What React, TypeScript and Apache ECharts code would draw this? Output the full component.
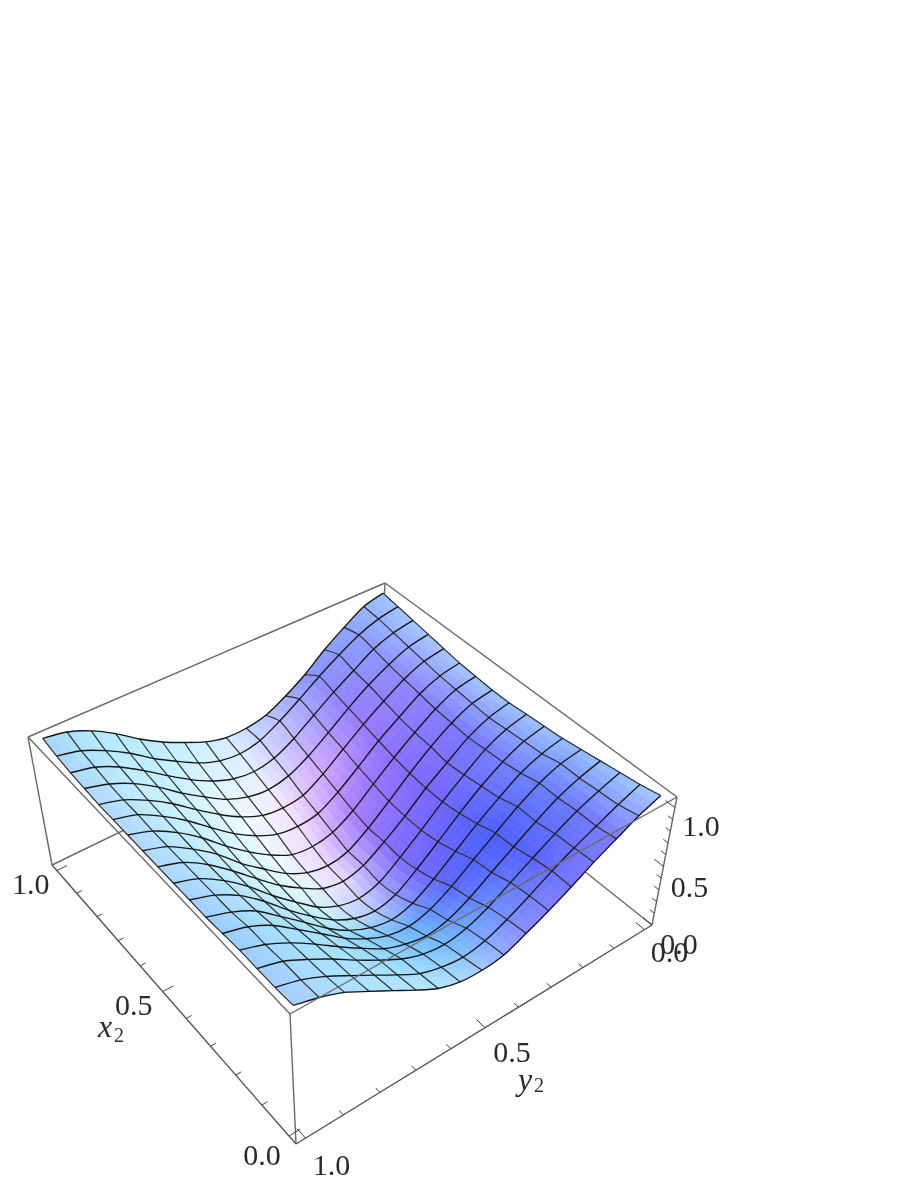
import React, { useEffect, useRef } from "react";
import * as echarts from "echarts";

// Surface height, as a fraction of the box height. Rows: x2 = 0, 1/16 ... 1. Columns: y2 = 0, 1/16 ... 1.
const zRow00 = [1.0, 0.93, 0.84, 0.75, 0.65, 0.56, 0.48, 0.41, 0.39, 0.4, 0.45, 0.54, 0.64, 0.74, 0.84, 0.91, 0.96];
const zRow01 = [0.97, 0.9, 0.82, 0.74, 0.65, 0.55, 0.46, 0.39, 0.36, 0.38, 0.43, 0.52, 0.62, 0.72, 0.82, 0.9, 0.95];
const zRow02 = [0.95, 0.89, 0.82, 0.73, 0.63, 0.53, 0.43, 0.36, 0.33, 0.35, 0.41, 0.5, 0.6, 0.71, 0.81, 0.9, 0.95];
const zRow03 = [0.93, 0.88, 0.81, 0.71, 0.6, 0.49, 0.38, 0.3, 0.27, 0.3, 0.36, 0.46, 0.57, 0.69, 0.8, 0.89, 0.95];
const zRow04 = [0.91, 0.88, 0.81, 0.71, 0.59, 0.47, 0.35, 0.26, 0.22, 0.24, 0.31, 0.41, 0.54, 0.67, 0.8, 0.89, 0.94];
const zRow05 = [0.89, 0.85, 0.78, 0.67, 0.55, 0.42, 0.29, 0.19, 0.15, 0.18, 0.25, 0.36, 0.5, 0.64, 0.78, 0.87, 0.93];
const zRow06 = [0.88, 0.84, 0.76, 0.65, 0.52, 0.38, 0.25, 0.14, 0.1, 0.13, 0.21, 0.33, 0.47, 0.63, 0.77, 0.87, 0.93];
const zRow07 = [0.87, 0.83, 0.75, 0.63, 0.5, 0.36, 0.23, 0.12, 0.08, 0.11, 0.19, 0.32, 0.46, 0.62, 0.76, 0.87, 0.93];
const zRow08 = [0.86, 0.82, 0.74, 0.62, 0.5, 0.36, 0.24, 0.14, 0.1, 0.13, 0.22, 0.33, 0.47, 0.62, 0.76, 0.87, 0.93];
const zRow09 = [0.86, 0.83, 0.75, 0.64, 0.51, 0.37, 0.24, 0.14, 0.11, 0.14, 0.22, 0.34, 0.47, 0.63, 0.76, 0.87, 0.93];
const zRow10 = [0.87, 0.84, 0.76, 0.65, 0.53, 0.4, 0.27, 0.18, 0.15, 0.17, 0.25, 0.36, 0.49, 0.64, 0.77, 0.87, 0.93];
const zRow11 = [0.88, 0.85, 0.78, 0.67, 0.56, 0.43, 0.31, 0.22, 0.2, 0.22, 0.29, 0.39, 0.52, 0.66, 0.78, 0.88, 0.93];
const zRow12 = [0.9, 0.87, 0.8, 0.7, 0.59, 0.47, 0.35, 0.26, 0.24, 0.26, 0.33, 0.43, 0.55, 0.68, 0.79, 0.88, 0.93];
const zRow13 = [0.92, 0.89, 0.82, 0.73, 0.62, 0.5, 0.39, 0.31, 0.28, 0.3, 0.36, 0.46, 0.57, 0.7, 0.81, 0.89, 0.94];
const zRow14 = [0.94, 0.91, 0.85, 0.75, 0.65, 0.54, 0.43, 0.35, 0.32, 0.34, 0.4, 0.49, 0.6, 0.72, 0.83, 0.91, 0.95];
const zRow15 = [0.96, 0.93, 0.87, 0.78, 0.68, 0.57, 0.47, 0.39, 0.36, 0.38, 0.44, 0.53, 0.63, 0.75, 0.85, 0.93, 0.97];
const zRow16 = [0.98, 0.94, 0.84, 0.73, 0.6, 0.5, 0.42, 0.39, 0.39, 0.43, 0.5, 0.58, 0.68, 0.8, 0.9, 0.97, 1.0];
const zRows = [zRow00, zRow01, zRow02, zRow03, zRow04, zRow05, zRow06, zRow07, zRow08, zRow09, zRow10, zRow11, zRow12, zRow13, zRow14, zRow15, zRow16];

// Surface colour. Rows: x2 = 0, 1/8 ... 1. Columns: y2 = 0, 1/8 ... 1.
const colourRows = [
  ["#a8ccff", "#7c7cff", "#7878ff", "#8c90ff", "#a4ccff", "#b4e8ff", "#b0e4ff", "#aee0ff", "#a8ccff"],
  ["#9cc4ff", "#6c78ff", "#5a64ff", "#6c90ff", "#74bcff", "#90d4ff", "#a8e0ff", "#a8e0ff", "#a0ccff"],
  ["#94bcff", "#6c80ff", "#4c60ff", "#5a68ff", "#6cb0ff", "#88d0ff", "#a8e0ff", "#a8e0ff", "#98ccff"],
  ["#9cc4ff", "#7480ff", "#6064ff", "#7468ff", "#b4c8ff", "#c0f0f8", "#c0ecfa", "#b4e4ff", "#a4d0ff"],
  ["#a0c4ff", "#7878ff", "#7c68ff", "#8a70ff", "#e8dcff", "#e4fbfb", "#d4f4f8", "#bceaff", "#acd8ff"],
  ["#a4c8ff", "#8480ff", "#8a70ff", "#a880ff", "#f0d8ff", "#ecfcff", "#d0f4fc", "#c0ecff", "#b0d8ff"],
  ["#a8c8ff", "#8e88ff", "#9a7aff", "#d0a8ff", "#f4e8ff", "#f0fcff", "#d0f4ff", "#c4eeff", "#b0d8ff"],
  ["#a4c8ff", "#8c98ff", "#8e88ff", "#c0b8ff", "#e4f0ff", "#dcf6ff", "#c4f0ff", "#bcecff", "#acd8fc"],
  ["#9cc4ff", "#8ea8ff", "#8a96ff", "#b4c4ff", "#d4ecff", "#c8f0ff", "#b8ecff", "#b4e8ff", "#a4d4fa"],
];

const axisTicks = [0, 0.1, 0.2, 0.3, 0.4, 0.5, 0.6, 0.7, 0.8, 0.9, 1];
const majorTicks = [0, 0.5, 1];
const tickLabels = ["0.0", "0.5", "1.0"];

// Picture positions of the box corners for the top and bottom faces.
const topFace = [[677, 797], [385, 583], [28, 737], [290, 1014]];
const bottomFace = [[652, 925], [378, 707], [52, 865], [296, 1144]];
const PAD = 0.025;
const Z_TOP = 1.09;
const SUB = 3;

function makeHomography(q: number[][]) {
  const [[x0, y0], [x1, y1], [x2, y2], [x3, y3]] = q;
  const dx1 = x1 - x2, dx2 = x3 - x2, sx = x0 - x1 + x2 - x3;
  const dy1 = y1 - y2, dy2 = y3 - y2, sy = y0 - y1 + y2 - y3;
  const den = dx1 * dy2 - dx2 * dy1;
  const g = (sx * dy2 - dx2 * sy) / den;
  const h = (dx1 * sy - sx * dy1) / den;
  const a = x1 - x0 + g * x1, b = x3 - x0 + h * x3;
  const d = y1 - y0 + g * y1, e = y3 - y0 + h * y3;
  return (u: number, v: number) => {
    const w = g * u + h * v + 1;
    return [(a * u + b * v + x0) / w, (d * u + e * v + y0) / w];
  };
}
const homTop = makeHomography(topFace);
const homBottom = makeHomography(bottomFace);
function boxPoint(u: number, v: number, w: number) {
  const t = homTop(u, v), b = homBottom(u, v);
  return [b[0] + (t[0] - b[0]) * w, b[1] + (t[1] - b[1]) * w];
}
const toBox = (t: number) => (t + PAD) / (1 + 2 * PAD);

function hexRgb(h: string) {
  return [parseInt(h.slice(1, 3), 16), parseInt(h.slice(3, 5), 16), parseInt(h.slice(5, 7), 16)];
}
const colourRgb = colourRows.map((r) => r.map(hexRgb));
function colourAt(fi: number, fj: number) {
  const ri = Math.min(fi / 2, 7.9999), rj = Math.min(fj / 2, 7.9999);
  const i = Math.floor(ri), j = Math.floor(rj), a = ri - i, b = rj - j;
  const out = [0, 1, 2].map((k) =>
    Math.round(
      colourRgb[i][j][k] * (1 - a) * (1 - b) + colourRgb[i + 1][j][k] * a * (1 - b) +
      colourRgb[i][j + 1][k] * (1 - a) * b + colourRgb[i + 1][j + 1][k] * a * b
    )
  );
  return `rgb(${out[0]},${out[1]},${out[2]})`;
}
function zAt(fi: number, fj: number) {
  const i = Math.min(Math.floor(fi), 15), j = Math.min(Math.floor(fj), 15), a = fi - i, b = fj - j;
  return zRows[i][j] * (1 - a) * (1 - b) + zRows[i + 1][j] * a * (1 - b) + zRows[i][j + 1] * (1 - a) * b + zRows[i + 1][j + 1] * a * b;
}
const surfacePoint = (fi: number, fj: number) => boxPoint(toBox(fi / 16), toBox(fj / 16), zAt(fi, fj));

const LINE = "#6a6a6a";
const TEXT = "#2a2a2a";
const SERIF = "'Liberation Serif', serif";

function App() {
  const ref = useRef<HTMLDivElement>(null);
  useEffect(() => {
    document.body.style.margin = "0";
    const chart = echarts.init(ref.current!, null, { renderer: "svg" });

    const segment = (api: any, p: number[], q: number[], stroke = LINE, lineWidth = 1.4) => {
      const a = api.coord(p), b = api.coord(q);
      return { type: "line", shape: { x1: a[0], y1: a[1], x2: b[0], y2: b[1] }, style: { stroke, lineWidth } };
    };

    const backBox = (_: any, api: any) => ({
      type: "group",
      children: [
        segment(api, boxPoint(1, 1, 1), boxPoint(1, 0, 1)),
        segment(api, boxPoint(1, 0, 1), boxPoint(0, 0, 1)),
        segment(api, boxPoint(1, 1, 0), boxPoint(1, 0, 0)),
        segment(api, boxPoint(0, 0, 0), boxPoint(1, 0, 0)),
        segment(api, boxPoint(1, 0, 0), boxPoint(1, 0, 1)),
        segment(api, boxPoint(1, 1, 0), boxPoint(1, 1, 1)),
        segment(api, boxPoint(0, 0, 0), boxPoint(0, 0, 1)),
      ],
    });

    const surface = (_: any, api: any) => {
      const children: any[] = [];
      for (let fi = 16 * SUB - 1; fi >= 0; fi--) {
        for (let fj = 0; fj < 16 * SUB; fj++) {
          const i0 = fi / SUB, i1 = (fi + 1) / SUB, j0 = fj / SUB, j1 = (fj + 1) / SUB;
          const fill = colourAt((i0 + i1) / 2, (j0 + j1) / 2);
          children.push({
            type: "polygon",
            shape: { points: [surfacePoint(i0, j0), surfacePoint(i1, j0), surfacePoint(i1, j1), surfacePoint(i0, j1)].map((p) => api.coord(p)) },
            style: { fill, stroke: fill, lineWidth: 0.7 },
          });
        }
      }
      for (let j = 0; j <= 16; j++) {
        const pts = zRows.map((_r, i) => api.coord(surfacePoint(i, j)));
        children.push({ type: "polyline", shape: { points: pts, smooth: 0.25 }, style: { fill: "none", stroke: "#2e2e2e", lineWidth: 1.2 } });
      }
      for (let i = 0; i <= 16; i++) {
        const pts = zRows[i].map((_z, j) => api.coord(surfacePoint(i, j)));
        children.push({ type: "polyline", shape: { points: pts, smooth: 0.25 }, style: { fill: "none", stroke: "#151515", lineWidth: 1.35 } });
      }
      return { type: "group", children };
    };

    const label = (api: any, p: number[], dx: number, dy: number, text: string, extra: any = {}) => {
      const a = api.coord([p[0] + dx, p[1] + dy]);
      return {
        type: "text",
        x: a[0],
        y: a[1],
        style: { text, fontFamily: SERIF, fontSize: 30, fill: TEXT, textAlign: "center", textVerticalAlign: "middle", ...extra },
      };
    };

    const frontBox = (_: any, api: any) => {
      const children: any[] = [
        segment(api, boxPoint(0, 1, 1), boxPoint(1, 1, 1)),
        segment(api, boxPoint(0, 1, 1), boxPoint(0, 0, 1)),
        segment(api, boxPoint(0, 1, 0), boxPoint(0, 1, 1)),
        segment(api, boxPoint(0, 1, 0), boxPoint(1, 1, 0), "#555"),
        segment(api, boxPoint(0, 1, 0), boxPoint(0, 0, 0), "#555"),
      ];
      axisTicks.forEach((t) => {
        const major = majorTicks.includes(t);
        const bx = toBox(t);
        children.push(segment(api, boxPoint(bx, 1, 0), boxPoint(bx, 1 - (major ? 0.028 : 0.014), 0), "#444", 1));
        children.push(segment(api, boxPoint(0, bx, 0), boxPoint(major ? 0.028 : 0.014, bx, 0), "#444", 1));
        const bz = t / Z_TOP;
        children.push(segment(api, boxPoint(0, 0, bz), boxPoint(major ? 0.028 : 0.014, 0, bz), "#444", 1));
      });
      const xOff = [[-27, 18], [-29, 13], [-26, 13]];
      const yOff = [[26, 26], [27, 24], [25, 22]];
      const zOff = [[27, 18], [26, 20], [26, 18]];
      majorTicks.forEach((t, k) => {
        const bx = toBox(t);
        children.push(label(api, boxPoint(bx, 1, 0), xOff[k][0], xOff[k][1], tickLabels[k]));
        children.push(label(api, boxPoint(0, bx, 0), yOff[2 - k][0], yOff[2 - k][1], tickLabels[k]));
        children.push(label(api, boxPoint(0, 0, t / Z_TOP), zOff[k][0], zOff[k][1], tickLabels[k]));
      });
      const names: [number, number, string, any][] = [
        [105, 1026, "x", { fontStyle: "italic", fontSize: 32 }],
        [119, 1035, "2", { fontSize: 20 }],
        [525, 1079, "y", { fontStyle: "italic", fontSize: 32 }],
        [539, 1085, "2", { fontSize: 20 }],
      ];
      names.forEach(([px, py, text, extra]) => children.push(label(api, [px, py], 0, 0, text, extra)));
      return { type: "group", children };
    };

    const layer = (name: string, renderItem: any, z: number) => ({
      type: "custom",
      name,
      coordinateSystem: "cartesian2d",
      data: [[0, 0]],
      z,
      silent: true,
      clip: false,
      renderItem,
    });

    chart.setOption({
      animation: false,
      backgroundColor: "#ffffff",
      grid: { left: 0, right: 0, top: 0, bottom: 0 },
      xAxis: { type: "value", min: 0, max: 917, show: false },
      yAxis: { type: "value", min: 0, max: 1187, inverse: true, show: false },
      series: [layer("box back", backBox, 1), layer("surface", surface, 2), layer("box front", frontBox, 3)],
    });
    return () => chart.dispose();
  }, []);
  return <div ref={ref} style={{ width: 917, height: 1187, filter: "blur(0.6px)" }} />;
}

export default App;
